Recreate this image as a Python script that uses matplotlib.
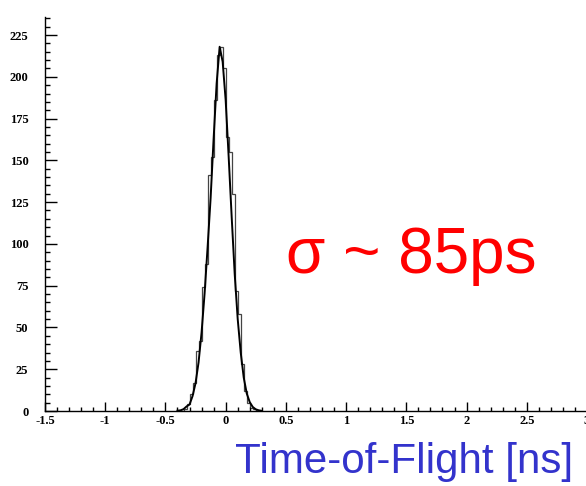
import matplotlib
matplotlib.use("Agg")
import matplotlib.pyplot as plt
import numpy as np
from matplotlib.ticker import MultipleLocator, FixedLocator

plt.rcParams['axes.unicode_minus'] = False

# histogram (bin edges in ns, counts per bin)
bin_edges = [-0.375, -0.35, -0.325, -0.3, -0.275, -0.25, -0.225, -0.2, -0.175,
             -0.15, -0.125, -0.1, -0.075, -0.05, -0.025, 0.0, 0.025, 0.05,
             0.075, 0.1, 0.125, 0.15, 0.175, 0.2, 0.225, 0.25]
counts = [0, 1, 4, 10, 17, 36, 42, 74, 88, 141, 152, 186, 213, 218, 205,
          164, 155, 130, 72, 58, 28, 12, 5, 2, 1]

# fitted curve
fit_x = [-0.40, -0.375, -0.35, -0.325, -0.30, -0.275, -0.25, -0.225, -0.20,
         -0.175, -0.15, -0.125, -0.10, -0.075, -0.05, -0.025, 0.0, 0.025,
         0.05, 0.075, 0.10, 0.125, 0.15, 0.175, 0.20, 0.225, 0.25, 0.275, 0.30]
fit_y = [0.2, 0.4, 1.1, 2.7, 3.9, 8.9, 16.7, 29.1, 47.0, 70.3, 98.0, 127.4,
         163.0, 196.0, 218.0, 209.0, 186.0, 152.0, 116.0, 82.0, 55.0, 35.0,
         20.0, 10.5, 5.3, 2.4, 1.0, 0.4, 0.1]

xticks = [-1.5, -1, -0.5, 0, 0.5, 1, 1.5, 2, 2.5, 3]
xticklabels = ['-1.5', '-1', '-0.5', '0', '0.5', '1', '1.5', '2', '2.5', '3']
yticks = [0, 25, 50, 75, 100, 125, 150, 175, 200, 225]
yticklabels = ['0', '25', '50', '75', '100', '125', '150', '175', '200', '225']

fig = plt.figure(figsize=(5.86, 4.86), dpi=100)
W, H = 586, 486
ax = fig.add_axes([45 / W, (H - 411) / H, (587 - 45) / W, (411 - 17) / H])

ax.stairs(counts, bin_edges, color='#444444', lw=0.9)
ax.plot(fit_x, fit_y, color='black', lw=1.4)

ax.set_xlim(-1.5, 3)
ax.set_ylim(0, 235.8)
ax.spines['top'].set_visible(False)
ax.spines['right'].set_visible(False)
ax.spines['left'].set_linewidth(1.0)
ax.spines['bottom'].set_linewidth(1.0)

ax.xaxis.set_major_locator(FixedLocator(xticks))
ax.set_xticklabels(xticklabels)
ax.xaxis.set_minor_locator(MultipleLocator(0.1))
ax.yaxis.set_major_locator(FixedLocator(yticks))
ax.set_yticklabels(yticklabels)
ax.yaxis.set_minor_locator(MultipleLocator(5))

ax.tick_params(axis='both', which='both', direction='in', width=1, labelsize=9)
ax.tick_params(axis='y', which='major', length=8.5, pad=12)
ax.tick_params(axis='y', which='minor', length=3.6)
ax.tick_params(axis='x', which='major', length=6.5, pad=3)
ax.tick_params(axis='x', which='minor', length=3)
for lab in ax.get_xticklabels() + ax.get_yticklabels():
    lab.set_fontfamily('Liberation Serif')
    lab.set_fontweight('bold')

fig.text(286 / W, (H - 273) / H, 'σ ~ 85ps', color='#ff0000', fontsize=46,
         family='Liberation Sans', ha='left', va='baseline')
fig.text(573 / W, (H - 473) / H, 'Time-of-Flight [ns]', color='#3333cc',
         fontsize=30.3, family='Liberation Sans', ha='right', va='baseline')

fig.savefig('out.png', dpi=100)
